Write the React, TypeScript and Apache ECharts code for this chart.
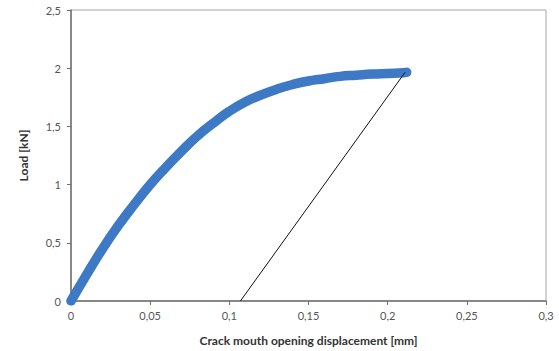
import React, { useEffect, useRef } from "react";
import * as echarts from "echarts";

const curveX = [0, 0.01, 0.02, 0.03, 0.04, 0.05, 0.06, 0.07, 0.08, 0.09, 0.1, 0.11, 0.12, 0.13, 0.14, 0.15, 0.16, 0.17, 0.18, 0.19, 0.2, 0.21, 0.212];
const curveY = [0, 0.23, 0.45, 0.65, 0.83, 1.0, 1.15, 1.29, 1.42, 1.53, 1.63, 1.71, 1.77, 1.82, 1.86, 1.89, 1.91, 1.93, 1.94, 1.95, 1.955, 1.96, 1.965];
const unloadX = [0.107, 0.211];
const unloadY = [0, 1.965];

const fmt = (v: number) => String(Math.round(v * 1000) / 1000).replace(".", ",");

export default function App() {
  const ref = useRef<HTMLDivElement>(null);
  useEffect(() => {
    const chart = echarts.init(ref.current!, null, { renderer: "svg" });
    chart.setOption({
      animation: false,
      grid: { left: 71, right: 13, top: 10, bottom: 48, show: true, borderColor: "#a6a6a6", borderWidth: 1 },
      xAxis: {
        type: "value", min: 0, max: 0.3, interval: 0.05,
        name: "Crack mouth opening displacement [mm]", nameLocation: "middle", nameGap: 33,
        nameTextStyle: { fontFamily: "Lato", fontWeight: "bold", fontSize: 12, color: "#333" },
        axisLine: { lineStyle: { color: "#6f6f6f", width: 1.5 } },
        axisTick: { show: true, length: 4, lineStyle: { color: "#6f6f6f" } },
        axisLabel: { formatter: fmt, fontFamily: "Lato", fontSize: 11, color: "#555", margin: 9 },
        splitLine: { show: false },
      },
      yAxis: {
        type: "value", min: 0, max: 2.5, interval: 0.5,
        name: "Load [kN]", nameLocation: "middle", nameGap: 42, nameRotate: 90,
        nameTextStyle: { fontFamily: "Lato", fontWeight: "bold", fontSize: 12, color: "#333" },
        axisLine: { show: true, lineStyle: { color: "#6f6f6f", width: 1.5 } },
        axisTick: { show: true, length: 4, lineStyle: { color: "#6f6f6f" } },
        axisLabel: { formatter: fmt, fontFamily: "Lato", fontSize: 11, color: "#555", margin: 10 },
        splitLine: { show: false },
      },
      series: [
        {
          type: "line",
          data: unloadX.map((x, i) => [x, unloadY[i]]),
          symbol: "none",
          lineStyle: { color: "#111", width: 1 },
          z: 3,
        },
        {
          type: "line",
          data: curveX.map((x, i) => [x, curveY[i]]),
          smooth: true,
          symbol: "none",
          lineStyle: { color: "#3d79c5", width: 9.5, cap: "round", join: "round" },
          z: 2,
        },
      ],
    });
    return () => chart.dispose();
  }, []);
  return <div ref={ref} style={{ width: 559, height: 351, position: "absolute", left: 0, top: 0, background: "#fff" }} />;
}
